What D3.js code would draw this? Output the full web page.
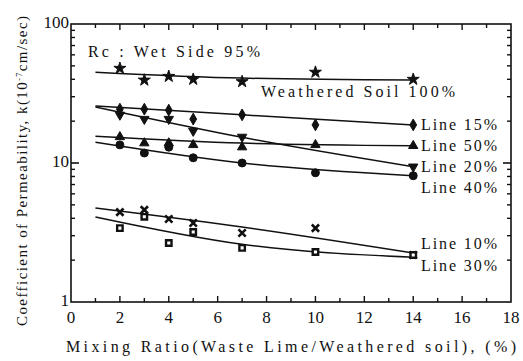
<!DOCTYPE html>
<html>
<head>
<meta charset="utf-8">
<script src="https://cdn.jsdelivr.net/npm/d3@7"></script>
<style>
  body { margin: 0; background: #fff; }
</style>
</head>
<body>
<svg id="chart" width="523" height="361" font-family="'Liberation Serif', 'Times New Roman', 'DejaVu Serif', serif"></svg>
<script>
(function () {
  'use strict';

  // measured points, mixing ratio (%) vs k (1e-7 cm/sec)
  const mixX = [2, 3, 4, 5, 7, 10, 14];
  const soil100 = [48, 39.5, 42, 40, 38.5, 45, 40];
  const line15 = [24.4, 24.4, 24, 20.7, 22.2, 18.8, 18.8];
  const line20 = [22.2, 20.7, 20.7, 17, 15.4, null, 9.4];
  const line50 = [15.4, 13.9, 13.9, 13.5, 13, 13.5, 13.3];
  const line40 = [13.5, 11.8, 13, 10.9, 10, 8.5, 8.1];
  const line10 = [4.43, 4.6, 3.95, 3.7, 3.14, 3.4, 2.18];
  const line30 = [3.4, 4.1, 2.66, 3.19, 2.45, 2.29, 2.18];

  // fitted trend lines, read at x = 1, 7, 14
  const fitX = [1, 7, 14];
  const fitSoil = [45, 40.8, 39.5];
  const fit15 = [25.7, 22.2, 18.8];
  const fit20 = [25.3, 15.3, 9.4];
  const fit50 = [15.6, 13.9, 13.3];
  const fit40 = [14.1, 10.0, 8.1];
  const fit10 = [4.74, 3.46, 2.25];
  const fit30 = [4.09, 2.6, 2.1];

  const xTicks = [0, 2, 4, 6, 8, 10, 12, 14, 16, 18];
  const yTicks = [1, 10, 100];

  const series = [
    { name: 'soil', pts: soil100, fit: fitSoil, sym: 'star' },
    { name: 'Line 15%', pts: line15, fit: fit15, sym: 'diamond' },
    { name: 'Line 20%', pts: line20, fit: fit20, sym: 'down' },
    { name: 'Line 50%', pts: line50, fit: fit50, sym: 'triangle' },
    { name: 'Line 40%', pts: line40, fit: fit40, sym: 'circle' },
    { name: 'Line 10%', pts: line10, fit: fit10, sym: 'times' },
    { name: 'Line 30%', pts: line30, fit: fit30, sym: 'square' }
  ];

  const margin = { top: 24, left: 71, bottom: 59, right: 12 };
  const W = 523, H = 361;
  const svg = d3.select('#chart');
  const ink = '#111';

  const x = d3.scaleLinear().domain([0, 18]).range([margin.left, W - margin.right]);
  const y = d3.scaleLog().domain([1, 100]).range([H - margin.bottom, margin.top]);

  // frame
  svg.append('rect')
    .attr('x', x(0)).attr('y', y(100))
    .attr('width', x(18) - x(0)).attr('height', y(1) - y(100))
    .attr('fill', 'none').attr('stroke', ink).attr('stroke-width', 1.6);

  // x ticks, inward, bottom and top
  d3.range(1, 18).forEach(v => {
    const len = v % 2 === 0 ? 6 : 4;
    svg.append('line').attr('x1', x(v)).attr('x2', x(v))
      .attr('y1', y(1)).attr('y2', y(1) - len)
      .attr('stroke', ink).attr('stroke-width', 1.4);
    svg.append('line').attr('x1', x(v)).attr('x2', x(v))
      .attr('y1', y(100)).attr('y2', y(100) + len)
      .attr('stroke', ink).attr('stroke-width', 1.4);
  });

  // y ticks, log minor ones on both sides
  const yMinor = [];
  [1, 10].forEach(d => d3.range(2, 10).forEach(m => yMinor.push(d * m)));
  yMinor.forEach(v => {
    svg.append('line').attr('x1', x(0)).attr('x2', x(0) + 4)
      .attr('y1', y(v)).attr('y2', y(v)).attr('stroke', ink).attr('stroke-width', 1.4);
    svg.append('line').attr('x1', x(18)).attr('x2', x(18) - 4)
      .attr('y1', y(v)).attr('y2', y(v)).attr('stroke', ink).attr('stroke-width', 1.4);
  });
  svg.append('line').attr('x1', x(0)).attr('x2', x(0) + 8)
    .attr('y1', y(10)).attr('y2', y(10)).attr('stroke', ink).attr('stroke-width', 1.6);
  svg.append('line').attr('x1', x(18)).attr('x2', x(18) - 8)
    .attr('y1', y(10)).attr('y2', y(10)).attr('stroke', ink).attr('stroke-width', 1.6);

  svg.selectAll('.xlab').data(xTicks).enter().append('text')
    .attr('class', 'xlab')
    .attr('x', d => x(d)).attr('y', 323)
    .attr('text-anchor', 'middle')
    .attr('font-size', 17)
    .attr('fill', ink)
    .text(d => d);

  svg.selectAll('.ylab').data(yTicks).enter().append('text')
    .attr('class', 'ylab')
    .attr('x', x(0) - 2).attr('y', d => y(d) + 4)
    .attr('text-anchor', 'end')
    .attr('font-size', 17)
    .attr('fill', ink)
    .text(d => d);

  // axis titles
  svg.append('text')
    .attr('x', 66).attr('y', 352)
    .attr('font-size', 16)
    .attr('fill', ink)
    .attr('textLength', 450).attr('lengthAdjust', 'spacing')
    .text('Mixing Ratio(Waste Lime/Weathered soil), (%)');

  const yt = svg.append('text')
    .attr('transform', 'translate(27,326) rotate(-90)')
    .attr('font-size', 15)
    .attr('fill', ink)
    .attr('textLength', 310).attr('lengthAdjust', 'spacing');
  yt.append('tspan').text('Coefficient of Permeability, k(10');
  yt.append('tspan').attr('font-size', 8).attr('dy', -5).text('-7');
  yt.append('tspan').attr('dy', 5).text('cm/sec)');

  // fitted lines
  const line = d3.line()
    .x(d => x(d[0])).y(d => y(d[1]))
    .curve(d3.curveMonotoneX);
  series.forEach(s => {
    svg.append('path')
      .attr('d', line(fitX.map((v, i) => [v, s.fit[i]])))
      .attr('fill', 'none').attr('stroke', ink).attr('stroke-width', 1.5);
  });

  // markers
  const symbols = {
    star: d3.symbol().type(d3.symbolStar).size(45),
    diamond: d3.symbol().type(d3.symbolDiamond).size(40),
    down: d3.symbol().type(d3.symbolTriangle).size(38),
    triangle: d3.symbol().type(d3.symbolTriangle).size(38),
    circle: d3.symbol().type(d3.symbolCircle).size(50),
    times: d3.symbol().type(d3.symbolTimes).size(36),
    square: d3.symbol().type(d3.symbolSquare).size(30)
  };
  series.forEach(s => {
    const pts = mixX.map((v, i) => [v, s.pts[i]]).filter(p => p[1] != null);
    svg.selectAll(null).data(pts).enter().append('path')
      .attr('d', symbols[s.sym])
      .attr('transform', d => `translate(${x(d[0])},${y(d[1])})` + (s.sym === 'down' ? ' rotate(180)' : ''))
      .attr('fill', s.sym === 'times' ? 'none' : (s.sym === 'square' ? '#fff' : ink))
      .attr('stroke', ink)
      .attr('stroke-width', s.sym === 'times' ? 2.6 : (s.sym === 'square' ? 2.4 : 1));
  });

  // annotations
  svg.append('text').attr('x', 88).attr('y', 57).attr('font-size', 16).attr('fill', ink)
    .attr('textLength', 172).attr('lengthAdjust', 'spacing')
    .text('Rc : Wet Side 95%');
  svg.append('text').attr('x', 261).attr('y', 97).attr('font-size', 16).attr('fill', ink)
    .attr('textLength', 194).attr('lengthAdjust', 'spacing')
    .text('Weathered Soil 100%');

  const labels = ['Line 15%', 'Line 50%', 'Line 20%', 'Line 40%', 'Line 10%', 'Line 30%'];
  const labelY = [130, 151, 172, 193, 249, 271];
  labels.forEach((t, i) => {
    svg.append('text').attr('x', 421).attr('y', labelY[i]).attr('font-size', 16).attr('fill', ink)
      .attr('textLength', 76).attr('lengthAdjust', 'spacing')
      .text(t);
  });
}());
</script>
</body>
</html>
